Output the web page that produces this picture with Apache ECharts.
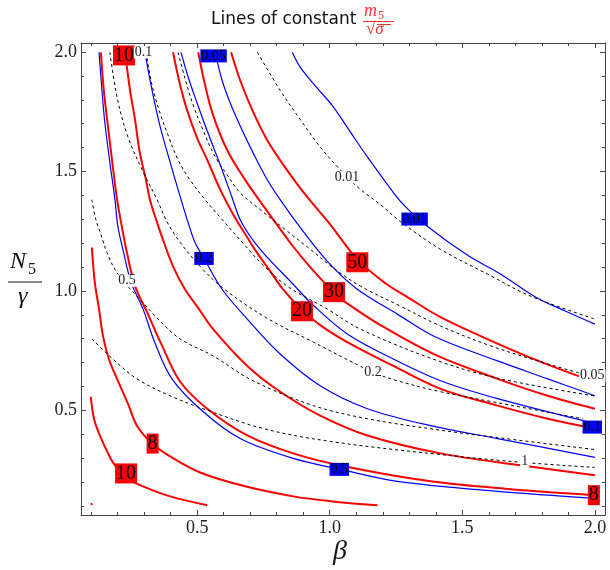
<!DOCTYPE html>
<html>
<head>
<meta charset="utf-8">
<script src="https://cdn.jsdelivr.net/npm/echarts@6/dist/echarts.min.js"></script>
<style>
  html, body { margin: 0; background: #fff; }
  #chart { width: 610px; height: 570px; }
</style>
</head>
<body>
<div id="chart"></div>
<script>
// axis range and ticks (beta on x, N5/gamma on y, same range)
const axisRange = [0.062, 2.038];
const majorTicks = [0.5, 1.0, 1.5, 2.0];
const minorTicks = [0.1, 0.2, 0.3, 0.4, 0.6, 0.7, 0.8, 0.9, 1.1, 1.2, 1.3, 1.4, 1.6, 1.7, 1.8, 1.9];

// red: constant m5/sqrt(sigma)  [beta, N5/gamma]
const red10Inner = [[0.099,0.557],[0.111,0.465],[0.133,0.395],[0.164,0.320],[0.190,0.270],[0.239,0.215],[0.296,0.182],[0.398,0.140],[0.538,0.103]];
const redCorner = [[0.0997,0.111],[0.104,0.104]];
const red8Inner = [[0.103,1.182],[0.114,1.036],[0.130,0.924],[0.145,0.811],[0.167,0.715],[0.198,0.632],[0.239,0.528],[0.273,0.436],[0.330,0.361],[0.398,0.307],[0.511,0.240],[0.681,0.182],[0.862,0.140],[1.002,0.120],[1.180,0.103]];
const red8Outer = [[0.137,1.999],[0.148,1.840],[0.164,1.686],[0.182,1.520],[0.198,1.382],[0.216,1.270],[0.235,1.161],[0.266,1.020],[0.311,0.911],[0.368,0.770],[0.436,0.620],[0.538,0.507],[0.689,0.395],[0.862,0.320],[1.059,0.265],[1.380,0.203],[1.683,0.170],[2.0,0.145]];
const red10Outer = [[0.228,1.999],[0.247,1.840],[0.266,1.715],[0.284,1.578],[0.307,1.465],[0.322,1.382],[0.349,1.286],[0.371,1.215],[0.409,1.103],[0.454,1.007],[0.507,0.924],[0.560,0.840],[0.689,0.686],[0.813,0.578],[0.964,0.478],[1.142,0.395],[1.418,0.320],[1.720,0.270],[2.0,0.228]];
const red20 = [[0.409,1.999],[0.436,1.861],[0.462,1.757],[0.500,1.640],[0.538,1.549],[0.587,1.424],[0.636,1.320],[0.689,1.224],[0.730,1.153],[0.776,1.082],[0.821,1.011],[0.889,0.928],[0.964,0.857],[1.066,0.786],[1.240,0.686],[1.418,0.590],[1.633,0.520],[1.822,0.465],[2.0,0.424]];
const red30 = [[0.504,1.999],[0.530,1.861],[0.560,1.736],[0.613,1.590],[0.681,1.465],[0.768,1.328],[0.862,1.186],[0.927,1.099],[1.014,0.995],[1.059,0.953],[1.191,0.857],[1.399,0.732],[1.633,0.632],[1.822,0.561],[2.0,0.507]];
const red50 = [[0.628,1.999],[0.662,1.882],[0.708,1.757],[0.764,1.632],[0.825,1.528],[0.908,1.403],[1.002,1.278],[1.104,1.132],[1.210,1.032],[1.293,0.974],[1.418,0.890],[1.569,0.811],[1.758,0.720],[1.947,0.640]];

// blue contours
const blue05 = [[0.130,1.999],[0.141,1.840],[0.152,1.703],[0.171,1.536],[0.190,1.382],[0.201,1.270],[0.220,1.174],[0.251,1.036],[0.296,0.924],[0.341,0.782],[0.405,0.632],[0.522,0.495],[0.662,0.382],[0.862,0.299],[1.040,0.253],[1.255,0.203],[1.633,0.161],[2.0,0.132]];
const blue02 = [[0.303,1.999],[0.330,1.840],[0.360,1.690],[0.390,1.570],[0.424,1.440],[0.466,1.286],[0.492,1.203],[0.526,1.136],[0.594,1.007],[0.689,0.882],[0.813,0.736],[0.964,0.603],[1.142,0.507],[1.380,0.436],[1.633,0.382],[2.0,0.303]];
const blue01 = [[0.439,1.999],[0.470,1.882],[0.500,1.786],[0.541,1.661],[0.587,1.528],[0.628,1.403],[0.666,1.290],[0.738,1.174],[0.862,1.028],[0.938,0.940],[1.066,0.820],[1.240,0.715],[1.418,0.624],[1.633,0.549],[2.0,0.445]];
const blue005 = [[0.568,1.999],[0.594,1.882],[0.625,1.786],[0.666,1.682],[0.711,1.578],[0.760,1.474],[0.813,1.382],[0.889,1.265],[0.991,1.124],[1.104,1.007],[1.255,0.903],[1.399,0.807],[1.633,0.707],[1.822,0.632],[2.0,0.561]];
const blue001 = [[0.859,1.999],[0.889,1.936],[0.953,1.849],[1.014,1.770],[1.078,1.665],[1.142,1.561],[1.210,1.457],[1.278,1.361],[1.369,1.270],[1.520,1.149],[1.645,1.070],[1.777,0.974],[1.890,0.915],[2.0,0.861]];

// black dashed contours
const dash1 = [[0.103,0.799],[0.182,0.715],[0.273,0.632],[0.398,0.561],[0.522,0.507],[0.749,0.424],[1.002,0.370],[1.418,0.315],[1.731,0.282],[2.0,0.261]];
const dash05 = [[0.103,1.382],[0.118,1.299],[0.137,1.236],[0.160,1.161],[0.190,1.090],[0.235,1.024],[0.284,0.965],[0.360,0.874],[0.436,0.799],[0.560,0.728],[0.711,0.624],[0.938,0.520],[1.142,0.465],[1.399,0.420],[1.633,0.386],[2.0,0.336]];
const dash02 = [[0.171,1.999],[0.198,1.811],[0.239,1.645],[0.300,1.490],[0.349,1.382],[0.386,1.290],[0.436,1.203],[0.511,1.103],[0.594,1.015],[0.757,0.890],[0.938,0.786],[1.161,0.661],[1.255,0.624],[1.418,0.578],[1.633,0.532],[1.954,0.465]];
const dash01 = [[0.307,1.999],[0.330,1.861],[0.360,1.745],[0.390,1.653],[0.428,1.549],[0.473,1.465],[0.530,1.382],[0.594,1.299],[0.681,1.190],[0.738,1.120],[0.840,1.020],[0.991,0.924],[1.116,0.840],[1.399,0.711],[1.633,0.635],[2.0,0.560]];
const dash005 = [[0.428,1.999],[0.454,1.890],[0.485,1.778],[0.522,1.674],[0.564,1.570],[0.613,1.486],[0.662,1.411],[0.738,1.340],[0.832,1.257],[0.927,1.174],[1.021,1.090],[1.116,1.020],[1.267,0.936],[1.418,0.853],[1.607,0.770],[1.796,0.703],[1.939,0.657]];
const dash001 = [[0.727,1.999],[0.813,1.840],[0.893,1.711],[0.964,1.603],[1.033,1.515],[1.104,1.436],[1.191,1.361],[1.267,1.290],[1.418,1.174],[1.596,1.070],[1.758,0.978],[2.0,0.882]];

// contour labels [beta, N5/gamma, text]
const redLabels = [[0.224,1.986,'10'],[0.332,0.361,'8'],[0.232,0.236,'10'],[0.895,0.915,'20'],[1.016,0.995,'30'],[1.104,1.120,'50'],[1.996,0.145,'8']];
const blueLabels = [[0.562,1.984,'0.05'],[0.526,1.136,'0.2'],[1.320,1.301,'0.01'],[1.036,0.253,'0.5'],[1.990,0.430,'0.1']];
const blackLabels = [[0.298,1.999,'0.1'],[1.065,1.476,'0.01'],[0.235,1.043,'0.5'],[1.163,0.661,'0.2'],[1.990,0.645,'0.05'],[1.735,0.286,'1']];

const chart = echarts.init(document.getElementById('chart'));

const serif = 'Liberation Serif';
const frame = '#444';

function curve(data, color, width, dashed) {
  return {
    type: 'line',
    data: data,
    showSymbol: false,
    smooth: 0.35,
    silent: true,
    z: dashed ? 4 : 3,
    lineStyle: { color: color, width: width, type: dashed ? [3, 3] : 'solid' },
  };
}

function labels(data, style) {
  return {
    type: 'scatter',
    data: data,
    symbolSize: 1,
    silent: true,
    z: 10,
    itemStyle: { color: 'rgba(0,0,0,0)', opacity: 1 },
    label: Object.assign({
      show: true,
      position: 'inside',
      formatter: (p) => p.data[2],
      fontFamily: serif,
    }, style),
  };
}

function axisDef(position, ticks, len, withLine, withLabel) {
  return {
    type: 'value',
    position: position,
    min: axisRange[0],
    max: axisRange[1],
    axisLine: { show: withLine, onZero: false, lineStyle: { color: frame, width: 1 } },
    axisTick: { show: true, inside: true, length: len, customValues: ticks, lineStyle: { color: frame } },
    axisLabel: {
      show: withLabel,
      customValues: ticks,
      formatter: (v) => v.toFixed(1),
      fontFamily: serif,
      fontSize: 18,
      color: '#222',
      margin: 4,
    },
    splitLine: { show: false },
  };
}

chart.setOption({
  animation: false,
  grid: { left: 81, right: 5, top: 43, bottom: 55 },
  xAxis: [
    axisDef('bottom', majorTicks, 5, true, true),
    axisDef('bottom', minorTicks, 3, false, false),
    axisDef('top', majorTicks, 5, true, false),
    axisDef('top', minorTicks, 3, false, false),
  ],
  yAxis: [
    axisDef('left', majorTicks, 5, true, true),
    axisDef('left', minorTicks, 3, false, false),
    axisDef('right', majorTicks, 5, true, false),
    axisDef('right', minorTicks, 3, false, false),
  ],
  graphic: [
    { type: 'text', x: 211, y: 11, style: { text: 'Lines of constant', font: '17px "DejaVu Sans"', fill: '#111' } },
    { type: 'text', x: 364, y: 2, style: { text: 'm', font: 'italic 18px "Liberation Serif"', fill: '#ff3030' } },
    { type: 'text', x: 378, y: 10, style: { text: '5', font: '12px "Liberation Serif"', fill: '#ff3030' } },
    { type: 'line', shape: { x1: 363, y1: 21.5, x2: 394, y2: 21.5 }, style: { stroke: '#ff3030', lineWidth: 1 } },
    { type: 'text', x: 366, y: 21, style: { text: '√σ', font: 'italic 17px "Liberation Serif"', fill: '#ff3030' } },
    { type: 'line', shape: { x1: 377, y1: 24.5, x2: 391, y2: 24.5 }, style: { stroke: '#ff3030', lineWidth: 1 } },
    { type: 'text', x: 10, y: 250, style: { text: 'N', font: 'italic 24px "Liberation Serif"', fill: '#111' } },
    { type: 'text', x: 28, y: 262, style: { text: '5', font: '16px "Liberation Serif"', fill: '#111' } },
    { type: 'line', shape: { x1: 8, y1: 282, x2: 42, y2: 282 }, style: { stroke: '#111', lineWidth: 1 } },
    { type: 'text', x: 18, y: 285, style: { text: 'γ', font: 'italic 24px "Liberation Serif"', fill: '#111' } },
    { type: 'text', x: 333, y: 538, style: { text: 'β', font: 'italic 28px "Liberation Serif"', fill: '#111' } },
  ],
  series: [
    curve(dash1, '#000', 1, true),
    curve(dash05, '#000', 1, true),
    curve(dash02, '#000', 1, true),
    curve(dash01, '#000', 1, true),
    curve(dash005, '#000', 1, true),
    curve(dash001, '#000', 1, true),
    curve(blue05, '#0000ff', 1.2, false),
    curve(blue02, '#0000ff', 1.2, false),
    curve(blue01, '#0000ff', 1.2, false),
    curve(blue005, '#0000ff', 1.2, false),
    curve(blue001, '#0000ff', 1.2, false),
    curve(red10Inner, '#ff0000', 2, false),
    curve(redCorner, '#ff0000', 2, false),
    curve(red8Inner, '#ff0000', 2, false),
    curve(red8Outer, '#ff0000', 2, false),
    curve(red10Outer, '#ff0000', 2, false),
    curve(red20, '#ff0000', 2, false),
    curve(red30, '#ff0000', 2, false),
    curve(red50, '#ff0000', 2, false),
    labels(redLabels, { backgroundColor: '#ff0000', color: '#000', fontSize: 20, lineHeight: 20, padding: [0, 1] }),
    labels(blueLabels, { backgroundColor: '#0000ff', color: '#000', fontSize: 14, lineHeight: 13, padding: [0, 1] }),
    labels(blackLabels, { backgroundColor: '#fff', color: '#222', fontSize: 14, lineHeight: 12, padding: [0, 1] }),
  ],
});
</script>
</body>
</html>
